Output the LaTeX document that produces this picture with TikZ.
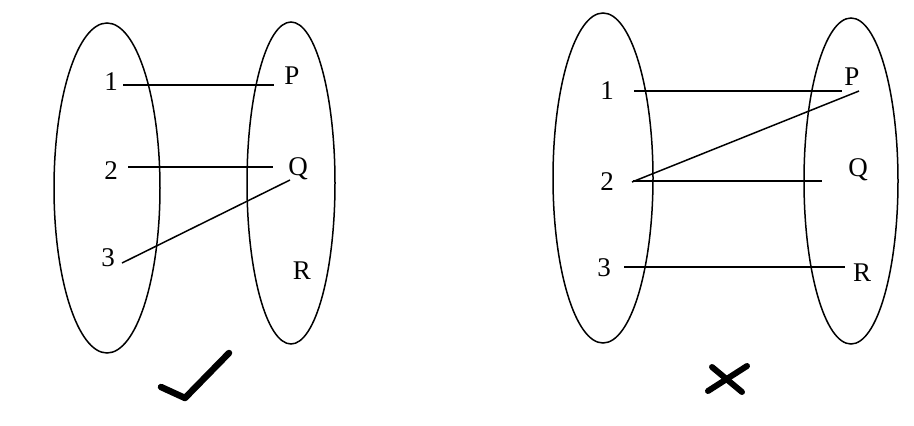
\documentclass[tikz,border=0pt]{standalone}
\usepackage{fontspec}
\setmainfont{Liberation Serif}
\begin{document}
\begin{tikzpicture}[x=1pt,y=-1pt,
  setellipse/.style={draw,line width=1.5pt},
  lab/.style={font=\fontsize{27}{27}\selectfont,inner sep=0pt},
  conn/.style={line width=1.5pt},
  tickmark/.style={line width=6.5pt,line cap=round,line join=round}]
\useasboundingbox[fill=white] (0,0) rectangle (914,426);
% left diagram
\draw[setellipse] (107,188) ellipse [x radius=53, y radius=165];
\draw[setellipse] (291,183) ellipse [x radius=44, y radius=161];
\node[lab] (a1) at (111,82) {1};
\node[lab] (a2) at (111,171) {2};
\node[lab] (a3) at (108,258) {3};
\node[lab] (aP) at (292,76) {P};
\node[lab] (aQ) at (298,169) {Q};
\node[lab] (aR) at (302,271) {R};
\coordinate (a1e) at (123,85); \coordinate (aPe) at (274,85);
\coordinate (a2e) at (128,167); \coordinate (aQe) at (273,167);
\coordinate (a3e) at (122,263); \coordinate (aQf) at (290,180);
\draw[conn] (a1e) -- (aPe);
\draw[conn] (a2e) -- (aQe);
\draw[conn] (a3e) -- (aQf);
\coordinate (ck1) at (161,387); \coordinate (ck2) at (185,398); \coordinate (ck3) at (229,353);
\draw[tickmark] (ck1) -- (ck2) -- (ck3);
% right diagram
\draw[setellipse] (603,178) ellipse [x radius=50, y radius=165];
\draw[setellipse] (851,181) ellipse [x radius=47, y radius=163];
\node[lab] (b1) at (607,91) {1};
\node[lab] (b2) at (607,182) {2};
\node[lab] (b3) at (604,268) {3};
\node[lab] (bP) at (852,77) {P};
\node[lab] (bQ) at (858,170) {Q};
\node[lab] (bR) at (862,273) {R};
\coordinate (b1e) at (634,91); \coordinate (bPe) at (842,91);
\coordinate (b2e) at (632,182); \coordinate (bPf) at (859,91);
\coordinate (b2f) at (633,181); \coordinate (bQe) at (822,181);
\coordinate (b3e) at (624,267); \coordinate (bRe) at (845,267);
\draw[conn] (b1e) -- (bPe);
\draw[conn] (b2e) -- (bPf);
\draw[conn] (b2f) -- (bQe);
\draw[conn] (b3e) -- (bRe);
\coordinate (x1) at (708,391); \coordinate (x2) at (747,366);
\coordinate (x3) at (712,367); \coordinate (x4) at (742,392);
\draw[tickmark,line width=6pt] (x1) -- (x2);
\draw[tickmark,line width=6pt] (x3) -- (x4);
\end{tikzpicture}
\end{document}
